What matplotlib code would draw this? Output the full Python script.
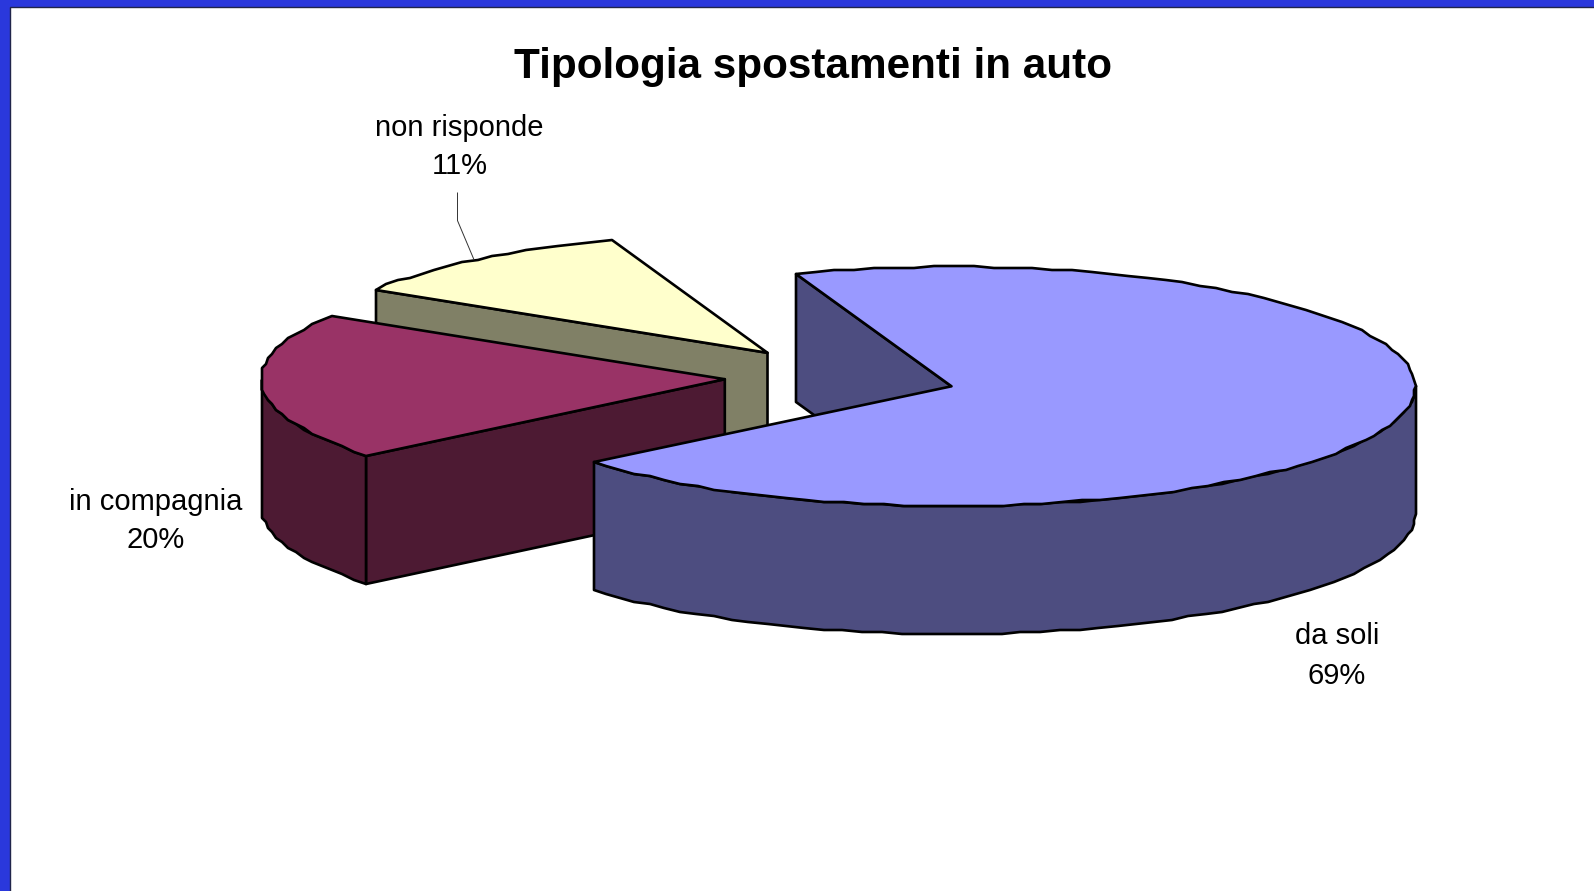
import numpy as np
import matplotlib
matplotlib.use("Agg")
import matplotlib.pyplot as plt
from matplotlib.patches import Polygon, Rectangle

plt.rcParams["font.family"] = ["Liberation Sans", "DejaVu Sans"]

# chart data, shares estimated so that they round to the printed labels
names = ["da soli", "in compagnia", "non risponde"]
values = [69.49, 19.90, 10.61]

# slice colours, top face and side
topColors = ["#9999FF", "#993366", "#FFFFCC"]
sideColors = ["#4D4D80", "#4D1A33", "#808066"]

# layout, in pixels of the picture
apexes = [(951.5, 386.3), (724.8, 379.2), (767.5, 352.8)]
labelPos = [(1337, 656), (155.5, 521), (459.5, 147)]
rx = 463.6
ry = 119.5
depth = 128
startAngle = 109.6
lineW = 1.9
grid = 2  # the rim of the original is a rough polygon, snap to a coarse grid
blue = "#2A38DC"


# point on the top ellipse of a slice, t in degrees
def rim(apex, t):
    t = np.radians(t)
    x = apex[0] + rx*np.cos(t)
    y = apex[1] - ry*np.sin(t)
    return np.round(x/grid)*grid, np.round(y/grid)*grid


# draws a flat face
def face(ax, pts, color):
    ax.add_patch(Polygon(pts, closed=True, facecolor=color, edgecolor="black",
                         linewidth=lineW, joinstyle="round"))


# angles from a to b, about one point every 2.5 degrees
def sweep(a, b):
    return np.linspace(a, b, int(abs(a-b)/2.5) + 2)


# draws one slice going clockwise from t0 to t1
def drawSlice(ax, apex, t0, t1, top, side):
    # cut faces, only those turned to the viewer
    for t, visible in [(t0, np.cos(np.radians(t0)) < 0), (t1, np.cos(np.radians(t1)) > 0)]:
        if visible:
            x, y = rim(apex, t)
            face(ax, [apex, (x, y), (x, y+depth), (apex[0], apex[1]+depth)], side)

    # outer wall, front half of the ellipse only
    a = min(t0, 0)
    b = max(t1, -180)
    if a > b:
        x, y = rim(apex, sweep(a, b))
        pts = list(zip(x, y)) + list(zip(x[::-1], y[::-1]+depth))
        face(ax, pts, side)

    x, y = rim(apex, sweep(t0, t1))
    face(ax, [apex] + list(zip(x, y)), top)


fig = plt.figure(figsize=(15.94, 8.91), dpi=100, facecolor=blue)
ax = fig.add_axes([0, 0, 1, 1])
ax.set_xlim(0, 1594)
ax.set_ylim(891, 0)
ax.axis("off")

# white slide area inside the blue frame
ax.add_patch(Rectangle((10.5, 7), 1600, 900, facecolor="white", edgecolor="#20244a", linewidth=1))

# angles of each slice from the values
ends = startAngle - 3.6*np.cumsum(values)
starts = np.concatenate(([startAngle], ends[:-1]))

# back slices first
for i in range(len(values)-1, -1, -1):
    drawSlice(ax, apexes[i], starts[i], ends[i], topColors[i], sideColors[i])

# leader of the non risponde label
ax.plot([457.5, 457.5, 473.7], [193, 220.6, 259], color="#333333", linewidth=0.7)

for i in range(len(values)):
    ax.text(labelPos[i][0], labelPos[i][1], names[i] + "\n" + str(round(values[i])) + "%",
            ha="center", va="center", fontsize=21, linespacing=1.5, color="black")

ax.text(813.5, 67, "Tipologia spostamenti in auto", ha="center", va="center",
        fontsize=30.4, fontweight="bold", color="black")

fig.savefig("out.png", dpi=100, facecolor=blue)
